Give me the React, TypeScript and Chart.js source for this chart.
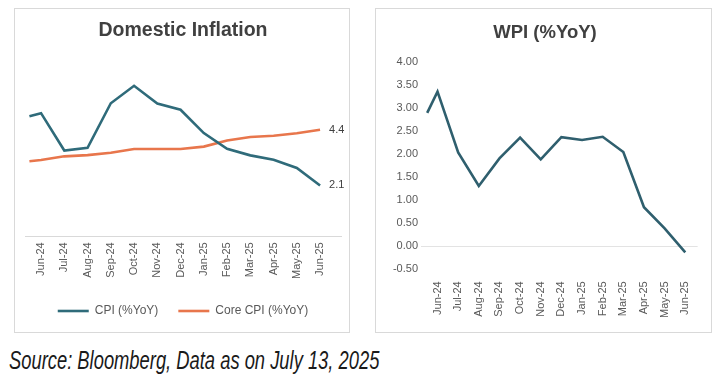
import React, { useEffect, useRef } from "react";
import { Chart, registerables } from "chart.js";

Chart.register(...registerables);

// ---- data ----
const monthLabels = ["Jun-24", "Jul-24", "Aug-24", "Sep-24", "Oct-24", "Nov-24", "Dec-24", "Jan-25", "Feb-25", "Mar-25", "Apr-25", "May-25", "Jun-25"];
// x position of each observation on the month axis (first observation sits half a month before Jun-24)
const obsPos = [-0.5, 0, 1, 2, 3, 4, 5, 6, 7, 8, 9, 10, 11, 12];
const cpiYoY = [4.95, 5.08, 3.54, 3.65, 5.49, 6.21, 5.48, 5.22, 4.26, 3.61, 3.34, 3.16, 2.82, 2.1];
const coreCpiYoY = [3.1, 3.15, 3.3, 3.35, 3.45, 3.6, 3.6, 3.6, 3.7, 3.95, 4.1, 4.15, 4.25, 4.4];
const wpiYoY = [2.9, 3.36, 2.04, 1.31, 1.91, 2.36, 1.89, 2.37, 2.31, 2.38, 2.05, 0.85, 0.39, -0.13];

const FONT = "'Liberation Sans', Arial, sans-serif";
const TEXT = "#595959";
const SOURCE_TEXT = "Source: Bloomberg, Data as on July 13, 2025";

const toPoints = (vals: number[]) => vals.map((v, i) => ({ x: obsPos[i], y: v }));

const endLabels = {
  id: "endLabels",
  afterDatasetsDraw(chart: any, _args: any, opts: any) {
    if (!opts || !opts.show) return;
    const ctx = chart.ctx;
    chart.data.datasets.forEach((ds: any, i: number) => {
      const meta = chart.getDatasetMeta(i);
      const el = meta.data[meta.data.length - 1];
      const v = ds.data[ds.data.length - 1].y;
      ctx.save();
      ctx.font = `11px ${FONT}`;
      ctx.fillStyle = "#404040";
      ctx.textBaseline = "middle";
      ctx.textAlign = "left";
      ctx.fillText(Number(v).toFixed(1), el.x + 9, el.y);
      ctx.restore();
    });
  },
};

function useChart(ref: React.RefObject<HTMLCanvasElement>, build: () => any) {
  useEffect(() => {
    if (!ref.current) return;
    const chart = new Chart(ref.current, build());
    return () => chart.destroy();
  }, []);
}

const monthAxisTicks = (axis: any) => {
  axis.ticks = monthLabels.map((_, i) => ({ value: i }));
};

function DomesticChart() {
  const ref = useRef<HTMLCanvasElement>(null);
  useChart(ref, () => ({
    type: "line",
    data: {
      datasets: [
        { label: "CPI (%YoY)", data: toPoints(cpiYoY), borderColor: "#2F6B7A", backgroundColor: "#2F6B7A", borderWidth: 2.6, pointRadius: 0, tension: 0 },
        { label: "Core CPI (%YoY)", data: toPoints(coreCpiYoY), borderColor: "#E8764C", backgroundColor: "#E8764C", borderWidth: 2.6, pointRadius: 0, tension: 0 },
      ],
    },
    plugins: [endLabels],
    options: {
      responsive: false,
      animation: false,
      layout: { padding: { left: 10, right: 8, top: 0, bottom: 5 } },
      scales: {
        x: {
          type: "linear",
          min: -0.69,
          max: 12.9,
          afterBuildTicks: monthAxisTicks,
          ticks: { callback: (v: any) => monthLabels[v] ?? "", minRotation: 90, maxRotation: 90, autoSkip: false, padding: 6, color: TEXT, font: { family: FONT, size: 11 } },
          grid: { display: false, drawTicks: false },
          border: { display: true, color: "#D9D9D9", width: 1 },
        },
        y: { display: false, min: 0, max: 8 },
      },
      plugins: {
        endLabels: { show: true },
        title: { display: true, text: "Domestic Inflation", color: "#404040", font: { family: FONT, size: 19.5, weight: "bold" }, padding: { top: 10, bottom: 0 } },
        legend: {
          display: true,
          position: "bottom",
          labels: { usePointStyle: true, pointStyle: "line", pointStyleWidth: 31, boxHeight: 12, padding: 20, color: TEXT, font: { family: FONT, size: 12 } },
        },
        tooltip: { enabled: false },
      },
    },
  }));
  return <canvas ref={ref} width={334} height={323} style={{ display: "block" }} />;
}

function WpiChart() {
  const ref = useRef<HTMLCanvasElement>(null);
  useChart(ref, () => ({
    type: "line",
    data: {
      datasets: [
        { label: "WPI (%YoY)", data: toPoints(wpiYoY), borderColor: "#2F5F6E", backgroundColor: "#2F5F6E", borderWidth: 2.6, pointRadius: 0, tension: 0 },
      ],
    },
    options: {
      responsive: false,
      animation: false,
      layout: { padding: { left: 15, right: 12, top: 0, bottom: 2 } },
      scales: {
        x: {
          type: "linear",
          min: -0.8,
          max: 12.6,
          afterBuildTicks: monthAxisTicks,
          ticks: { callback: (v: any) => monthLabels[v] ?? "", minRotation: 90, maxRotation: 90, autoSkip: false, padding: 12, color: TEXT, font: { family: FONT, size: 11 } },
          grid: { display: false, drawTicks: false },
          border: { display: false },
        },
        y: {
          min: -0.5,
          max: 4,
          afterFit: (axis: any) => {
            axis.width = 30;
          },
          ticks: { stepSize: 0.5, padding: 3, color: TEXT, font: { family: FONT, size: 11 }, callback: (v: any) => Number(v).toFixed(2) },
          grid: { drawTicks: false, color: (c: any) => (c.tick && c.tick.value === 0 ? "#E3E3E3" : "rgba(0,0,0,0)") },
          border: { display: false },
        },
      },
      plugins: {
        title: { display: true, text: "WPI (%YoY)", color: "#404040", font: { family: FONT, size: 18.5, weight: "bold" }, padding: { top: 13, bottom: 18 } },
        legend: { display: false },
        tooltip: { enabled: false },
      },
    },
  }));
  return <canvas ref={ref} width={335} height={323} style={{ display: "block" }} />;
}

function SourceNote() {
  const ref = useRef<HTMLDivElement>(null);
  useEffect(() => {
    const el = ref.current;
    if (!el) return;
    el.style.transform = "none";
    const w = el.scrollWidth;
    if (w > 0) el.style.transform = `scaleX(${370 / w})`;
  }, []);
  return (
    <div
      ref={ref}
      style={{
        position: "absolute",
        left: 9,
        top: 343,
        fontFamily: FONT,
        fontStyle: "italic",
        fontSize: 25,
        color: "#1a1a1a",
        whiteSpace: "nowrap",
        lineHeight: "34px",
        transformOrigin: "left top",
        display: "inline-block",
      }}
    >
      {SOURCE_TEXT}
    </div>
  );
}

export default function App() {
  const box: React.CSSProperties = { position: "absolute", top: 8, border: "1px solid #D9D9D9", background: "#fff" };
  return (
    <div style={{ position: "absolute", left: 0, top: 0, width: 721, height: 385, background: "#fff", overflow: "hidden" }}>
      <div style={{ ...box, left: 14, width: 334, height: 323 }}>
        <DomesticChart />
      </div>
      <div style={{ ...box, left: 375, width: 335, height: 323 }}>
        <WpiChart />
      </div>
      <SourceNote />
    </div>
  );
}
